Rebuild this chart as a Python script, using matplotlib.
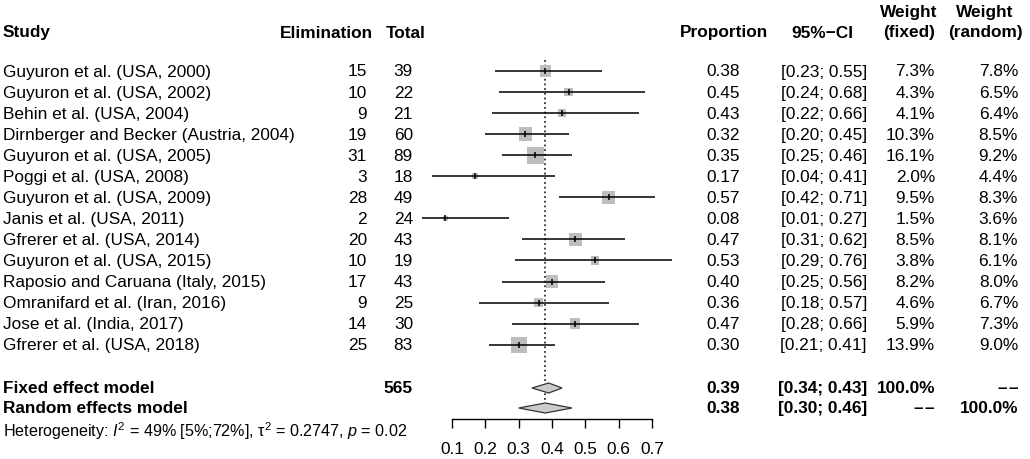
import matplotlib
matplotlib.use("Agg")
import matplotlib.pyplot as plt
import numpy as np

plt.rcParams['font.family'] = ['Liberation Sans', 'DejaVu Sans']
plt.rcParams['mathtext.fontset'] = 'custom'
plt.rcParams['mathtext.rm'] = 'Liberation Sans'
plt.rcParams['mathtext.it'] = 'Liberation Sans:italic'

# study data
studies = ["Guyuron et al. (USA, 2000)", "Guyuron et al. (USA, 2002)",
           "Behin et al. (USA, 2004)", "Dirnberger and Becker (Austria, 2004)",
           "Guyuron et al. (USA, 2005)", "Poggi et al. (USA, 2008)",
           "Guyuron et al. (USA, 2009)", "Janis et al. (USA, 2011)",
           "Gfrerer et al. (USA, 2014)", "Guyuron et al. (USA, 2015)",
           "Raposio and Caruana (Italy, 2015)", "Omranifard et al. (Iran, 2016)",
           "Jose et al. (India, 2017)", "Gfrerer et al. (USA, 2018)"]
elimination = [15, 10, 9, 19, 31, 3, 28, 2, 20, 10, 17, 9, 14, 25]
total = [39, 22, 21, 60, 89, 18, 49, 24, 43, 19, 43, 25, 30, 83]
prop = [0.38, 0.45, 0.43, 0.32, 0.35, 0.17, 0.57, 0.08, 0.47, 0.53, 0.40, 0.36, 0.47, 0.30]
lower = [0.23, 0.24, 0.22, 0.20, 0.25, 0.04, 0.42, 0.01, 0.31, 0.29, 0.25, 0.18, 0.28, 0.21]
upper = [0.55, 0.68, 0.66, 0.45, 0.46, 0.41, 0.71, 0.27, 0.62, 0.76, 0.56, 0.57, 0.66, 0.41]
w_fixed = [7.3, 4.3, 4.1, 10.3, 16.1, 2.0, 9.5, 1.5, 8.5, 3.8, 8.2, 4.6, 5.9, 13.9]
w_random = [7.8, 6.5, 6.4, 8.5, 9.2, 4.4, 8.3, 3.6, 8.1, 6.1, 8.0, 6.7, 7.3, 9.0]

fixed_est, fixed_lo, fixed_hi = 0.39, 0.34, 0.43
random_est, random_lo, random_hi = 0.38, 0.30, 0.46
total_n = 565
xticks = [0.1, 0.2, 0.3, 0.4, 0.5, 0.6, 0.7]

W, H = 1030, 460
fig = plt.figure(figsize=(W / 100, H / 100), dpi=100)
tx = fig.add_axes([0, 0, 1, 1])
tx.set_xlim(0, W)
tx.set_ylim(H, 0)
tx.axis('off')

# forest panel: 0.1 -> 452 px, 0.7 -> 652 px
px_per = (652 - 452) / 0.6
left_px, right_px = 400, 700
fx = fig.add_axes([left_px / W, 0, (right_px - left_px) / W, 1])
fx.set_xlim(0.1 - (452 - left_px) / px_per, 0.7 + (right_px - 652) / px_per)
fx.set_ylim(H, 0)
fx.axis('off')

fs = 12.4
y_head = 33
rows = 72 + 21.05 * np.arange(len(studies))
y_fixed, y_random, y_het = 389, 409, 431
dash = "\u2013\u200a\u2013"

# header
tx.text(3, y_head, "Study", fontsize=fs, fontweight='bold', va='center')
tx.text(373, y_head, "Elimination", fontsize=fs, fontweight='bold', va='center', ha='right')
tx.text(386, y_head, "Total", fontsize=fs, fontweight='bold', va='center')
tx.text(680, y_head, "Proportion", fontsize=fs, fontweight='bold', va='center')
tx.text(822, y_head, "95%\u2212CI", fontsize=fs, fontweight='bold', va='center', ha='center')
tx.text(909, 12, "Weight", fontsize=fs, fontweight='bold', va='center', ha='center')
tx.text(909, y_head, "(fixed)", fontsize=fs, fontweight='bold', va='center', ha='center')
tx.text(985, 12, "Weight", fontsize=fs, fontweight='bold', va='center', ha='center')
tx.text(985, y_head, "(random)", fontsize=fs, fontweight='bold', va='center', ha='center')

for i, y in enumerate(rows):
    tx.text(3, y, studies[i], fontsize=fs, va='center')
    tx.text(367, y, str(elimination[i]), fontsize=fs, va='center', ha='right')
    tx.text(413, y, str(total[i]), fontsize=fs, va='center', ha='right')
    tx.text(740, y, "%.2f" % prop[i], fontsize=fs, va='center', ha='right')
    tx.text(867, y, "[%.2f; %.2f]" % (lower[i], upper[i]), fontsize=fs, va='center', ha='right')
    tx.text(935, y, "%.1f%%" % w_fixed[i], fontsize=fs, va='center', ha='right')
    tx.text(1018, y, "%.1f%%" % w_random[i], fontsize=fs, va='center', ha='right')

# summary rows
tx.text(3, y_fixed, "Fixed effect model", fontsize=fs, fontweight='bold', va='center')
tx.text(413, y_fixed, str(total_n), fontsize=fs, fontweight='bold', va='center', ha='right')
tx.text(740, y_fixed, "%.2f" % fixed_est, fontsize=fs, fontweight='bold', va='center', ha='right')
tx.text(867, y_fixed, "[%.2f; %.2f]" % (fixed_lo, fixed_hi), fontsize=fs, fontweight='bold', va='center', ha='right')
tx.text(935, y_fixed, "100.0%", fontsize=fs, fontweight='bold', va='center', ha='right')
tx.text(1018, y_fixed, dash, fontsize=fs, fontweight='bold', va='center', ha='right')

tx.text(3, y_random, "Random effects model", fontsize=fs, fontweight='bold', va='center')
tx.text(740, y_random, "%.2f" % random_est, fontsize=fs, fontweight='bold', va='center', ha='right')
tx.text(867, y_random, "[%.2f; %.2f]" % (random_lo, random_hi), fontsize=fs, fontweight='bold', va='center', ha='right')
tx.text(935, y_random, dash, fontsize=fs, fontweight='bold', va='center', ha='right')
tx.text(1018, y_random, "100.0%", fontsize=fs, fontweight='bold', va='center', ha='right')

tx.text(3, y_het, "Heterogeneity: $I^2$ = 49% [5%;72%], \u03c4$^2$ = 0.2747, $p$ = 0.02",
        fontsize=11.6, va='center')

# dotted reference line at the pooled estimate
fx.plot([random_est, random_est], [61, 403], color='#333333', lw=1.3,
        linestyle=(0, (1, 1.6)), zorder=1)

# squares sized by fixed weight, CI lines on top
side_pt = 4.24 * np.sqrt(w_fixed) * 0.72
fx.scatter(prop, rows, s=side_pt ** 2, marker='s', color='#bebebe',
           edgecolors='none', zorder=2)
fx.hlines(rows, lower, upper, color='black', lw=1.1, zorder=3)
fx.scatter(prop, rows, s=5 ** 2, marker='|', color='black', linewidths=1.1, zorder=4)

# diamonds
for est, lo, hi, yc in [(fixed_est, fixed_lo, fixed_hi, y_fixed),
                        (random_est, random_lo, random_hi, y_random)]:
    fx.fill([lo, est, hi, est], [yc, yc - 5, yc, yc + 5], facecolor='#cccccc',
            edgecolor='#333333', lw=0.9, zorder=3)

# x axis
y_axis = 420
fx.plot([xticks[0], xticks[-1]], [y_axis, y_axis], color='black', lw=1)
fx.vlines(xticks, y_axis, y_axis + 9, color='black', lw=1)
for t in xticks:
    fx.text(t, 450, "%.1f" % t, fontsize=fs, ha='center', va='center')

fig.savefig("out.png", dpi=100)
